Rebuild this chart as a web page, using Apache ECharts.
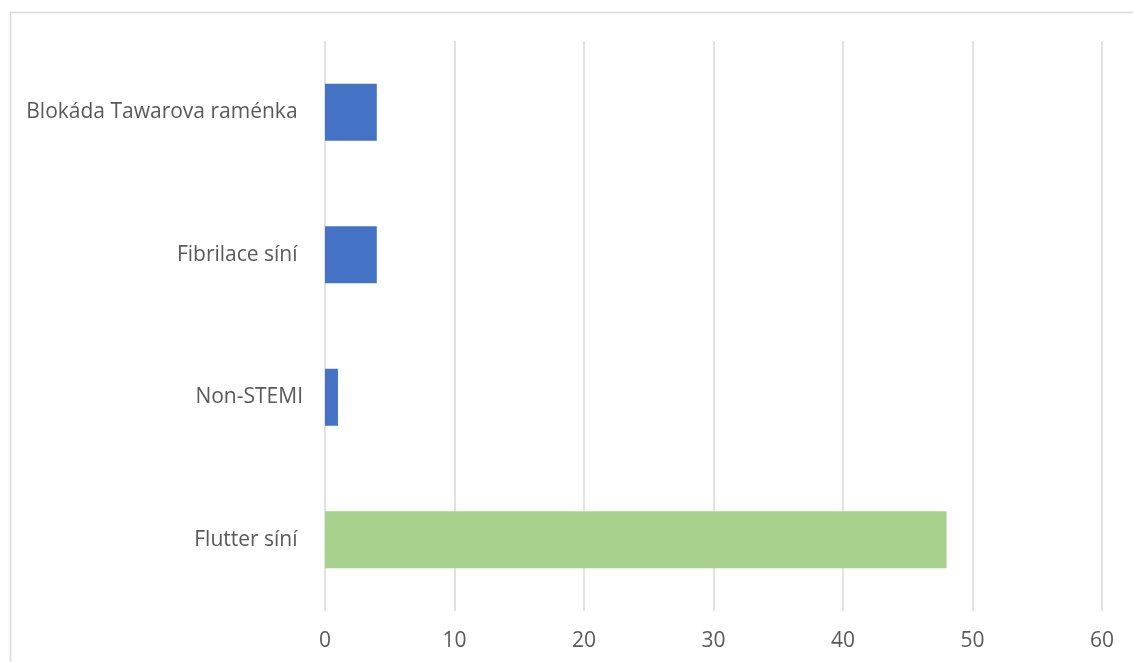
<!DOCTYPE html>
<html>
<head>
<meta charset="utf-8">
<script src="https://cdn.jsdelivr.net/npm/echarts@6/dist/echarts.min.js"></script>
<style>
html,body{margin:0;padding:0;background:#fff;}
#chart{width:1133px;height:662px;}
</style>
</head>
<body>
<div id="chart"></div>
<script>
const categories = ['Flutter síní ', 'Non-STEMI', 'Fibrilace síní ', 'Blokáda Tawarova raménka '];
const values = [48, 1, 4, 4];
const barColors = ['#A9D18E', '#4472C4', '#4472C4', '#4472C4'];

const chart = echarts.init(document.getElementById('chart'));
chart.setOption({
  backgroundColor: '#fff',
  animation: false,
  graphic: [{
    type: 'rect',
    shape: { x: 10.5, y: 12.5, width: 1300, height: 800 },
    style: { fill: 'none', stroke: '#D9D9D9', lineWidth: 1.5 },
    silent: true
  }],
  grid: { left: 325, right: 31, top: 41, bottom: 51 },
  xAxis: {
    type: 'value',
    min: 0, max: 60, interval: 10,
    axisLine: { show: false },
    axisTick: { show: false },
    splitLine: { show: true, lineStyle: { color: '#D9D9D9', width: 1.5 } },
    axisLabel: { color: '#595959', fontFamily: 'Open Sans', fontSize: 21, margin: 20 }
  },
  yAxis: {
    type: 'category',
    data: categories,
    axisLine: { show: false },
    axisTick: { show: false },
    axisLabel: { color: '#595959', fontFamily: 'Open Sans', fontSize: 21, margin: 22 }
  },
  series: [{
    type: 'bar',
    barWidth: '40%',
    data: values.map((v, i) => ({ value: v, itemStyle: { color: barColors[i] } }))
  }]
});
</script>
</body>
</html>
